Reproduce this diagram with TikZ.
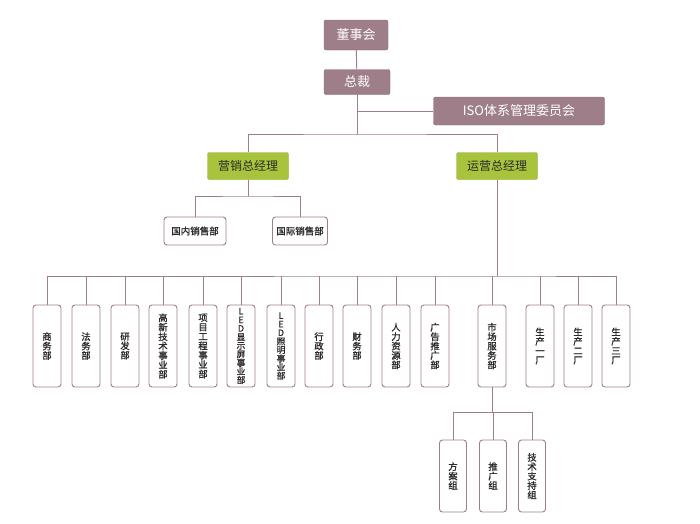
\documentclass[tikz,border=0pt]{standalone}
\usepackage{fontspec}
\setmainfont{Noto Sans CJK SC}
\newfontfamily\heavycjk{Noto Sans CJK SC}[FakeBold=1.2]
\definecolor{mauve}{HTML}{9E7F89}
\definecolor{lime}{HTML}{A8C43C}
\definecolor{txt}{HTML}{2A2A2A}
\begin{document}
\begin{tikzpicture}[x=1pt,y=-1pt,
  topbox/.style={draw=mauve!85!black,fill=mauve,rounded corners=2pt,text=white,font=\fontsize{13}{14}\selectfont,inner sep=0pt,minimum height=26pt},
  mgrbox/.style={draw=lime!85!black,fill=lime,rounded corners=2pt,text=txt,font=\fontsize{12}{13}\selectfont,inner sep=0pt,minimum width=81pt,minimum height=27pt},
  smallbox/.style={draw=mauve,line width=0.9pt,fill=white,rounded corners=3pt,text=txt,font=\heavycjk\fontsize{9.5}{11}\selectfont,inner sep=0pt,minimum height=28pt},
  tallbox/.style={draw=mauve,line width=0.9pt,fill=white,rounded corners=3pt,text=txt,font=\heavycjk\fontsize{9.3}{9.4}\selectfont,inner sep=0pt,minimum width=28pt,minimum height=82pt,align=center},
  dense/.style={font=\heavycjk\fontsize{8.8}{8.6}\selectfont},
  lowbox/.style={tallbox,minimum width=27pt,minimum height=72pt},
  link/.style={draw=mauve,line width=0.9pt}]
\useasboundingbox (0,0) rectangle (700,523);

\node[topbox,minimum width=64pt,minimum height=30pt] (dsh) at (356,35) {董事会};
\node[topbox,minimum width=66pt,minimum height=25pt] (zc) at (357,82) {总裁};
\node[topbox,minimum width=171pt,minimum height=28pt] (iso) at (519,111) {ISO体系管理委员会};
\node[mgrbox] (yx) at (248,166) {营销总经理};
\node[mgrbox] (yy) at (497,166) {运营总经理};
\node[smallbox,minimum width=62pt] (gn) at (195,231) {国内销售部};
\node[smallbox,minimum width=55pt] (gj) at (300,231) {国际销售部};

\node[tallbox] (t1) at (47,346) {商\\务\\部};
\node[tallbox] (t2) at (86,346) {法\\务\\部};
\node[tallbox] (t3) at (125,346) {研\\发\\部};
\node[tallbox] (t4) at (163,346) {高\\新\\技\\术\\事\\业\\部};
\node[tallbox] (t5) at (203,346) {项\\目\\工\\程\\事\\业\\部};
\node[tallbox,dense] (t6) at (241,346) {L\\E\\D\\显\\示\\屏\\事\\业\\部};
\node[tallbox,dense] (t7) at (281,346) {L\\E\\D\\照\\明\\事\\业\\部};
\node[tallbox] (t8) at (319,346) {行\\政\\部};
\node[tallbox] (t9) at (357,346) {财\\务\\部};
\node[tallbox] (t10) at (396,346) {人\\力\\资\\源\\部};
\node[tallbox] (t11) at (435,346) {广\\告\\推\\广\\部};
\node[tallbox] (t12) at (492,346) {市\\场\\服\\务\\部};
\node[tallbox] (t13) at (540,346) {生\\产\\一\\厂};
\node[tallbox] (t14) at (578,346) {生\\产\\二\\厂};
\node[tallbox] (t15) at (616,346) {生\\产\\三\\厂};

\node[lowbox] (s1) at (453,476) {方\\案\\组};
\node[lowbox] (s2) at (493,476) {推\\广\\组};
\node[lowbox] (s3) at (532,476) {技\\术\\支\\持\\组};

\coordinate (b1) at (357,134);
\coordinate (b2) at (248,196);
\coordinate (b3) at (497,276);
\coordinate (b4) at (492,412);

\draw[link] (dsh) -- (zc);
\draw[link] (zc.south) -- (b1);
\draw[link] (iso.west) -- (iso.west -| zc);
\draw[link] (yx.north) |- (b1) -| (yy.north);
\draw[link] (yx.south) -- (b2);
\draw[link] (gn.north) |- (b2) -| (gj.north);
\draw[link] (yy.south) -- (b3);
\draw[link] (t1.north) |- (b3) -| (t15.north);
\foreach \i in {2,...,14} {\draw[link] (t\i.north) -- (t\i.north |- b3);}
\draw[link] (t12.south) -- (b4);
\draw[link] (s1.north) |- (b4) -| (s3.north);
\draw[link] (s2.north) -- (s2.north |- b4);
\end{tikzpicture}
\end{document}
